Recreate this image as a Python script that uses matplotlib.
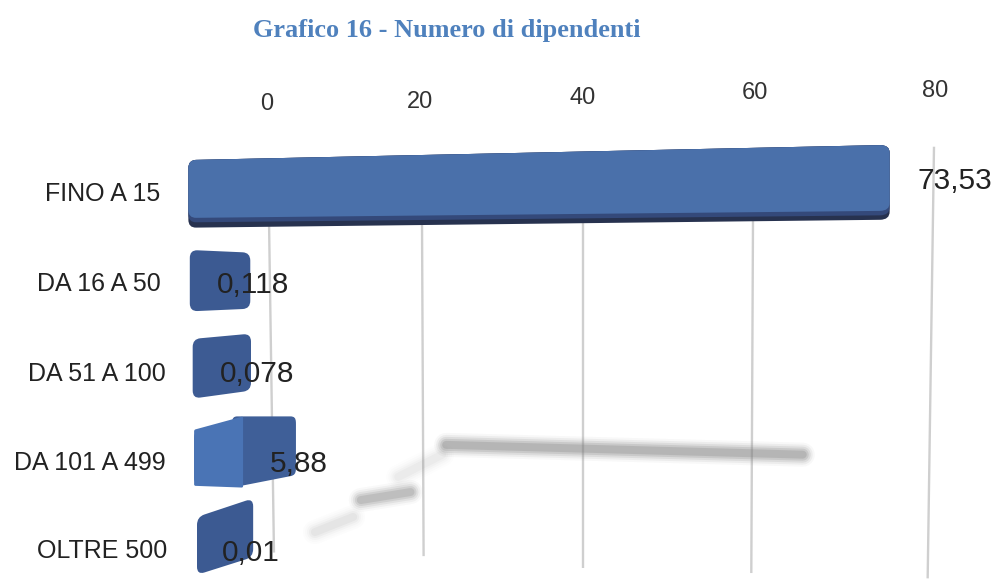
import numpy as np
import matplotlib
matplotlib.use('Agg')
import matplotlib.pyplot as plt
from matplotlib.path import Path
from matplotlib.patches import PathPatch

plt.rc('font', family=['Liberation Sans', 'DejaVu Sans'])

title = 'Grafico 16 - Numero di dipendenti'
categories = ['FINO A 15', 'DA 16 A 50', 'DA 51 A 100', 'DA 101 A 499', 'OLTRE 500']
value_labels = ['73,53', '0,118', '0,078', '5,88', '0,01']
# where the bars start and end, read against the axis of the picture
bar_start = [-11.2, -11.0, -10.6, -10.4, -10.0]
bar_end = [75.1, -2.6, -2.5, 3.5, -2.2]
ticks = [0, 20, 40, 60, 80]

# the x axis of the picture is in perspective: value -> pixel
scale_vals = [-40, 0, 20, 40, 60, 80, 100]
scale_px = [-19, 269, 422, 583, 753, 934, 1134]

# bar outline, offset from the row centre (top left, top right, bottom right, bottom left)
top_left = [-0.37, -0.36, -0.36, -0.34, -0.36]
top_right = [-0.54, -0.33, -0.42, -0.49, -0.57]
bot_right = [0.30, 0.30, 0.22, 0.17, 0.09]
bot_left = [0.39, 0.33, 0.31, 0.29, 0.29]
bar_colors = ['#27324f', '#3c5a92', '#3d5b93', '#3f5f98', '#3c5a92']

# gridlines lean a little
grid_bottom_x = [0.65, 20.2, 40, 59.8, 79.3]
grid_top_row = [0.3, 0.3, 0.3, 0.3, -0.52]
grid_bottom_row = [4.04, 4.08, 4.21, 4.27, 4.33]

tick_x = [-0.3, 19.75, 39.9, 60.2, 80.1]
tick_row = [-1.0, -1.02, -1.07, -1.12, -1.15]
cat_x = [-15.1, -15.1, -14.4, -14.4, -14.1]
cat_off = [0.01, 0.02, 0.03, 0.03, 0.02]
label_x = [78.2, -7.2, -6.8, 0.13, -6.5]
label_off = [-0.13, 0.03, 0.03, 0.05, 0.04]

# floor shadows: x0, x1, row0, row1, strength
shadow_x0 = [23.0, 16.9, 12.0, 6.0]
shadow_x1 = [65.5, 22.5, 18.5, 11.0]
shadow_r0 = [2.83, 3.19, 3.45, 3.81]
shadow_r1 = [2.94, 2.94, 3.36, 3.64]
shadow_a = [1.0, 0.2, 0.85, 0.28]


def forward(v):
    return np.interp(v, scale_vals, scale_px)


def inverse(p):
    return np.interp(p, scale_px, scale_vals)


def rounded(corners, rad=8.0):
    # closed path with soft corners, radius in rough pixels
    pts = np.array(corners, dtype=float)
    squash = np.array([7.5, 89.0])
    verts = []
    codes = []
    n = len(pts)
    for i in range(n):
        c = pts[i]
        to_prev = pts[i - 1] - c
        to_next = pts[(i + 1) % n] - c
        a = c + to_prev * min(0.45, rad / np.linalg.norm(to_prev * squash))
        b = c + to_next * min(0.45, rad / np.linalg.norm(to_next * squash))
        verts.append(a)
        codes.append(Path.MOVETO if i == 0 else Path.LINETO)
        verts.append(c)
        codes.append(Path.CURVE3)
        verts.append(b)
        codes.append(Path.CURVE3)
    verts.append(verts[0])
    codes.append(Path.CLOSEPOLY)
    return Path(np.array(verts), codes)


fig = plt.figure(figsize=(9.94, 5.8), dpi=100)
ax = fig.add_axes([0, 0, 1, 1])
ax.set_xscale('function', functions=(forward, inverse))
ax.set_xlim(inverse(0), inverse(994))
ax.set_ylim((580 - 193) / 89, -193 / 89)
ax.axis('off')

fig.text(447 / 994, 1 - 30 / 580, title, family='Liberation Serif', weight='bold',
         fontsize=18.9, color='#4f81bd', ha='center', va='center')

for i, t in enumerate(ticks):
    ax.plot([t, grid_bottom_x[i]], [grid_top_row[i], grid_bottom_row[i]],
            color='#cfcfcf', lw=1.7, zorder=1, solid_capstyle='butt')
    ax.text(tick_x[i], tick_row[i], str(t), fontsize=17, color='#333333',
            ha='center', va='center', zorder=6)

for i in range(len(shadow_x0)):
    for w, a in zip([24, 20, 16, 12, 8], [0.05, 0.09, 0.14, 0.2, 0.25]):
        ax.plot([shadow_x0[i], shadow_x1[i]], [shadow_r0[i], shadow_r1[i]], color='#7d7d7d',
                lw=w * 0.72, alpha=a * shadow_a[i], zorder=2, solid_capstyle='round')

for i, name in enumerate(categories):
    corners = [(bar_start[i], i + top_left[i]), (bar_end[i], i + top_right[i]),
               (bar_end[i], i + bot_right[i]), (bar_start[i], i + bot_left[i])]
    ax.add_patch(PathPatch(rounded(corners), fc=bar_colors[i], ec='none', zorder=3))
    ax.text(cat_x[i], i + cat_off[i], name, fontsize=18, color='#222222', ha='right', va='center', zorder=6)
    ax.text(label_x[i], i + label_off[i], value_labels[i], fontsize=21.5, color='#222222',
            ha='left', va='center', zorder=6)

# long bar: lighter face over the dark underside
mid = [(bar_start[0], top_left[0]), (bar_end[0], top_right[0]),
       (bar_end[0], 0.25), (bar_start[0], 0.33)]
ax.add_patch(PathPatch(rounded(mid), fc='#34497a', ec='none', zorder=3.5))
face = [(bar_start[0], top_left[0]), (bar_end[0], top_right[0]),
        (bar_end[0], 0.20), (bar_start[0], 0.28)]
ax.add_patch(PathPatch(rounded(face), fc='#4a70aa', ec='none', zorder=4))

# DA 101 A 499 shows two faces, the dark one runs on under the light one
split = -3.6
right = [(split - 1.5, 3 - 0.49), (bar_end[3], 3 + top_right[3]), (bar_end[3], 3 + bot_right[3]), (split - 1.5, 3 + 0.31)]
ax.add_patch(PathPatch(rounded(right, 5), fc=bar_colors[3], ec='none', zorder=3.5))
left = [(bar_start[3], 3 + top_left[3]), (split, 3 - 0.49), (split, 3 + 0.31), (bar_start[3], 3 + bot_left[3])]
ax.add_patch(PathPatch(rounded(left, 1.5), fc='#4a74b5', ec='none', zorder=4))

plt.savefig('out.png', dpi=100)
